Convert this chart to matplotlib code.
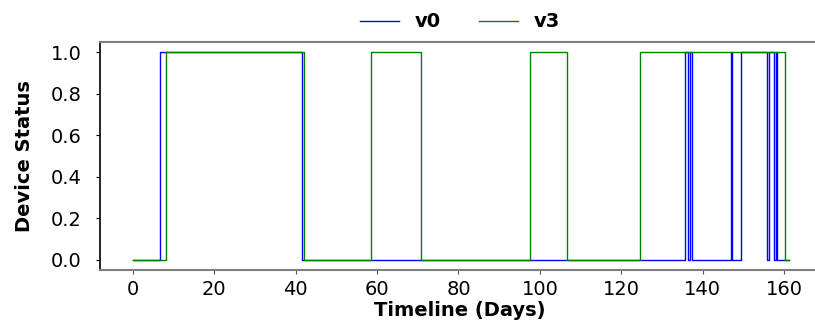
import matplotlib
matplotlib.use('Agg')
import matplotlib.pyplot as plt

# change points (day) and the status held from that day on
v0_days = [0, 6.8, 41.6, 135.7, 136.5, 136.9, 137.4, 147.0, 147.15, 149.4,
           155.8, 156.2, 157.6, 158.0, 158.15, 161.2]
v0_status = [0, 1, 0, 1, 0, 1, 0, 1, 0, 1, 0, 1, 0, 1, 0, 0]

v3_days = [0, 8.2, 42.0, 58.5, 70.9, 97.6, 106.6, 124.5, 160.2, 161.2]
v3_status = [0, 1, 0, 1, 0, 1, 0, 1, 0, 0]

x_ticks = [0, 20, 40, 60, 80, 100, 120, 140, 160]
y_ticks = [0.0, 0.2, 0.4, 0.6, 0.8, 1.0]

fig = plt.figure(figsize=(8.15, 3.2), dpi=100)
ax = fig.add_axes([0.1227, 0.15625, 0.8834, 0.7125])

ax.step(v0_days, v0_status, where='post', color='blue', lw=1.0, label='v0')
ax.step(v3_days, v3_status, where='post', color='green', lw=1.0, label='v3')

ax.set_xlim(-8.05, 168.8)
ax.set_ylim(-0.05, 1.05)
ax.set_xticks(x_ticks)
ax.set_yticks(y_ticks)
ax.set_yticklabels(['%.1f' % v for v in y_ticks])

ax.tick_params(axis='both', labelsize=14, length=3, width=0.8)
ax.tick_params(axis='x', pad=4.5, color='#555555')
ax.tick_params(axis='y', pad=10)

ax.set_xlabel('Timeline (Days)', fontsize=14, fontweight='bold', labelpad=1)
ax.set_ylabel('Device Status', fontsize=14, fontweight='bold', labelpad=12)

ax.spines['right'].set_visible(False)
ax.spines['left'].set_color('black')
ax.spines['left'].set_linewidth(1.2)
ax.spines['top'].set_color('#7f7f7f')
ax.spines['top'].set_linewidth(1.5)
ax.spines['bottom'].set_color('#7f7f7f')
ax.spines['bottom'].set_linewidth(1.5)

leg = ax.legend(loc='lower center', bbox_to_anchor=(0.5, 0.97), ncol=2,
                frameon=False, prop={'size': 14, 'weight': 'bold'})

fig.savefig('out.png', dpi=100)
